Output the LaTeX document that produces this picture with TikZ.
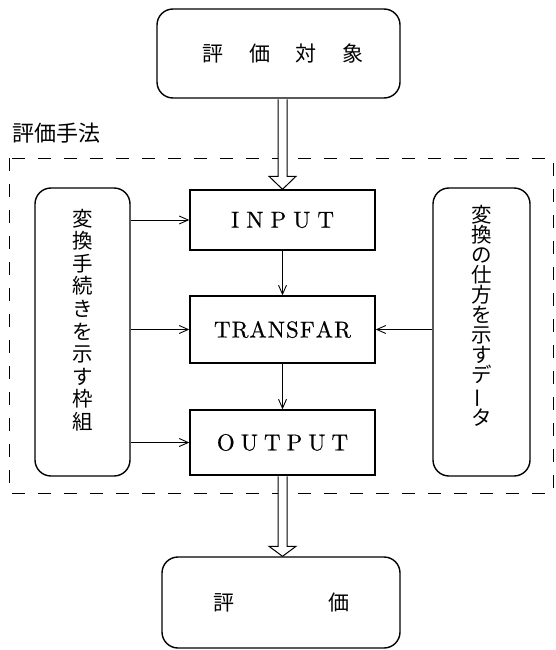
\documentclass[tikz,border=0pt]{standalone}
\usepackage{fontspec}
\usepackage{graphicx}
\newfontfamily\jp{Noto Sans CJK JP}
\newfontfamily\lat{lmroman10-regular.otf}[FakeBold=0.5]
\usetikzlibrary{arrows.meta,calc}
\tikzset{
  roundbox/.style={draw, line width=1.4pt, rounded corners=16pt, inner sep=0pt},
  procbox/.style={draw, line width=1.4pt, minimum width=185pt, inner sep=0pt,
    font=\lat\fontsize{23}{27}\selectfont},
  flow/.style={line width=0.9pt, -{Straight Barb[length=9pt,width=8pt,line width=0.9pt]}},
  bigarrow/.style={draw, line width=1pt, fill=white, line join=miter},
  jptext/.style={font=\jp\fontsize{21}{25}\selectfont},
  vtext/.style={inner sep=0pt, align=center},
  frame/.style={line width=1pt, dash pattern=on 13pt off 13pt},
}
\begin{document}
\begin{tikzpicture}[x=1pt,y=-1pt]
\useasboundingbox (0,0) rectangle (556,650);

% method frame and its caption
\draw[frame] (9,158) rectangle (553,493);
\node[anchor=west, inner sep=0pt, font=\jp\fontsize{22}{26}\selectfont] (label) at (12,133) {評価手法};

% object and result boxes
\node[roundbox, jptext, minimum width=243pt, minimum height=89pt] (obj) at (278.5,53.5)
  {\hspace{9pt}評\hspace{26pt}価\hspace{26pt}対\hspace{26pt}象};
\node[roundbox, jptext, minimum width=238pt, minimum height=91pt] (eval) at (281,602.5)
  {評\hspace{94pt}価};

% processing chain
\node[procbox, minimum height=60pt] (in) at (282.5,220)
  {I\kern7pt N\kern7pt P\kern7pt U\kern7pt T};
\node[procbox, minimum height=67pt] (tr) at (282.5,329.5)
  {T\kern1pt R\kern1pt A\kern1pt N\kern1pt S\kern1pt F\kern1pt A\kern1pt R};
\node[procbox, minimum height=65pt] (out) at (282.5,442.5)
  {O\kern6pt U\kern6pt T\kern6pt P\kern6pt U\kern6pt T};

% side boxes with vertical text
\node[roundbox, minimum width=95pt, minimum height=288pt] (lb) at (82.5,332) {};
\node[vtext, font=\jp\fontsize{20.5}{22.6}\selectfont] (lbt) at (82.5,320)
  {変\\換\\手\\続\\き\\を\\示\\す\\枠\\組};
\node[roundbox, minimum width=97pt, minimum height=288pt] (rb) at (481.5,332) {};
\node[vtext, font=\jp\fontsize{20.5}{20}\selectfont] (rbt) at (481.5,316)
  {変\\換\\の\\仕\\方\\を\\示\\す\\デ\\\rotatebox[origin=c]{90}{ー}\\タ};

% thin connectors
\draw[flow] (lb.east |- in.west) -- (in.west);
\draw[flow] (lb.east |- tr.west) -- (tr.west);
\draw[flow] (lb.east |- out.west) -- (out.west);
\draw[flow] (rb.west |- tr.east) -- (tr.east);
\draw[flow] (in.south) -- (tr.north);
\draw[flow] (tr.south) -- (out.north);

% hollow block arrows
\draw[bigarrow]
  ($(in.north |- obj.south)+(-4.5,0.7)$) -- ($(in.north)+(-4.5,-13)$)
  -- ($(in.north)+(-13.5,-13)$) -- (in.north)
  -- ($(in.north)+(13.5,-13)$) -- ($(in.north)+(4.5,-13)$)
  -- ($(in.north |- obj.south)+(4.5,0.7)$);
\draw[bigarrow]
  ($(out.south)+(-4.5,0.7)$) -- ($(out.south |- eval.north)+(-4.5,-10)$)
  -- ($(out.south |- eval.north)+(-13.5,-10)$) -- (out.south |- eval.north)
  -- ($(out.south |- eval.north)+(13.5,-10)$) -- ($(out.south |- eval.north)+(4.5,-10)$)
  -- ($(out.south)+(4.5,0.7)$);
\end{tikzpicture}
\end{document}
